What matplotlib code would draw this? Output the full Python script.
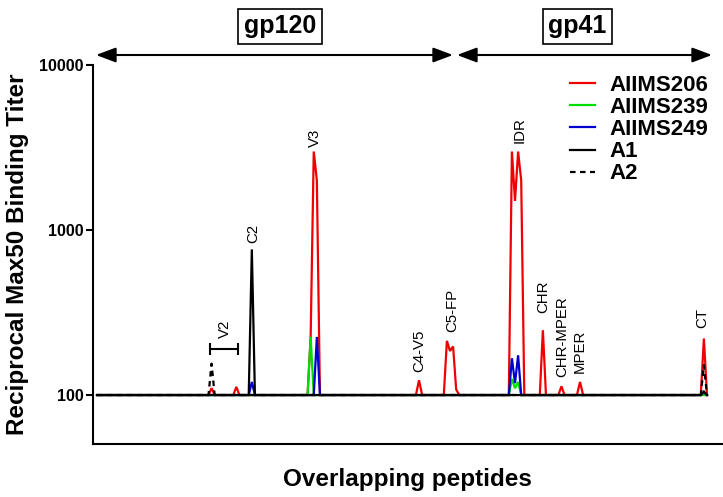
import matplotlib
matplotlib.use("Agg")
import matplotlib.pyplot as plt
import numpy as np
from matplotlib.patches import FancyArrowPatch
from matplotlib.ticker import NullLocator

plt.rcParams['font.family'] = ['Liberation Sans', 'DejaVu Sans']

# ---------------- data ----------------
n_peptides = 198
baseline_titer = 100

series_names = ['AIIMS206', 'AIIMS239', 'AIIMS249', 'A1', 'A2']

aiims206_pep = [38, 46, 70, 71, 72, 105, 114, 115, 116, 117, 135, 136, 137, 138, 145, 151, 157, 197]
aiims206_titer = [110, 112, 225, 2990, 2000, 123, 213, 185, 197, 108, 2990, 1500, 2990, 2000, 247, 113, 120, 220]

aiims239_pep = [70, 135, 136, 137]
aiims239_titer = [225, 125, 110, 120]

aiims249_pep = [51, 72, 135, 136, 137, 197]
aiims249_titer = [120, 225, 167, 118, 174, 104]

a1_pep = [51, 197]
a1_titer = [763, 105]

a2_pep = [38, 197]
a2_titer = [155, 152]

region_names = ['V2', 'C2', 'V3', 'C4-V5', 'C5-FP', 'IDR', 'CHR', 'CHR-MPER', 'MPER', 'CT']
region_pep = [42.3, 51.4, 71.4, 105.2, 115.6, 137.4, 145.1, 151.4, 157.0, 196.5]
region_titer = [221, 833, 3200, 138, 240, 3366, 314, 128, 136, 255]

v2_span = [37.5, 46.5]
v2_bracket_titer = 190

protein_names = ['gp120', 'gp41']

# ---------------- figure ----------------
W, H = 723, 497
fig = plt.figure(figsize=(W / 100, H / 100), dpi=100)


def fx(px):
    return px / W


def fy(py):
    return 1 - py / H


ax = fig.add_axes([fx(93.3), fy(444), fx(722) - fx(93.3), fy(65) - fy(444)])

peptides = np.arange(1, n_peptides + 1)


def full_series(pep, titer):
    y = np.full(n_peptides, float(baseline_titer))
    y[np.array(pep) - 1] = titer
    return y


colors = ['#f00000', '#00dd00', '#0000cc', 'black', 'black']
data = [(aiims206_pep, aiims206_titer), (aiims239_pep, aiims239_titer),
        (aiims249_pep, aiims249_titer), (a1_pep, a1_titer), (a2_pep, a2_titer)]
handles = []
for i, (name, col, (p, t)) in enumerate(zip(series_names, colors, data)):
    kw = {}
    if name == 'A2':
        kw['dashes'] = (2.5, 2)
    h, = ax.plot(peptides, full_series(p, t), color=col, lw=1.6, label=name,
                 zorder=2 + i * 0.1, solid_joinstyle='miter', **kw)
    handles.append(h)

ax.set_yscale('log')
ax.set_ylim(50.5, 10000)
ax.set_xlim(-0.2, 202.85)
ax.set_yticks([100, 1000, 10000])
ax.set_yticklabels(['100', '1000', '10000'], fontweight='bold', fontsize=11.5)
ax.yaxis.set_minor_locator(NullLocator())
ax.set_xticks([])
ax.tick_params(axis='y', length=5, width=1.5, pad=2)
for s in ['top', 'right']:
    ax.spines[s].set_visible(False)
for s in ['left', 'bottom']:
    ax.spines[s].set_linewidth(1.5)

ax.set_ylabel('Reciprocal Max50 Binding Titer', fontsize=17.5, fontweight='bold', labelpad=7)
ax.set_xlabel('Overlapping peptides', fontsize=17.5, fontweight='bold', labelpad=17)

# region labels
for name, p, t in zip(region_names, region_pep, region_titer):
    ax.text(p, t, name, rotation=90, ha='center', va='bottom', fontsize=10.8)

# V2 bracket
ax.errorbar([(v2_span[0] + v2_span[1]) / 2], [v2_bracket_titer],
            xerr=[(v2_span[1] - v2_span[0]) / 2], color='black', lw=1.5,
            capsize=4.3, capthick=1.5, fmt='none')

# legend
ax.legend(handles=handles, loc='upper left', bbox_to_anchor=(fx(570), fy(75)),
          bbox_transform=fig.transFigure, frameon=False, borderpad=0, borderaxespad=0,
          handlelength=1.13, handletextpad=0.63, labelspacing=0.05,
          prop={'weight': 'bold', 'size': 16})

# protein arrows
arrow_spans = [(96, 453), (457, 712)]
for (x0, x1) in arrow_spans:
    arr = FancyArrowPatch((fx(x0), fy(55)), (fx(x1), fy(55)), transform=fig.transFigure,
                          arrowstyle='<|-|>,head_length=1.2,head_width=0.45',
                          mutation_scale=10, lw=1.5, color='black',
                          shrinkA=0, shrinkB=0)
    fig.add_artist(arr)

box_centers = [280, 577.5]
for name, cx in zip(protein_names, box_centers):
    fig.text(fx(cx), fy(26), name, ha='center', va='center', fontsize=18, fontweight='bold',
             bbox=dict(boxstyle='square,pad=0.22', fc='white', ec='black', lw=1.2))

fig.savefig('out.png', dpi=100)
